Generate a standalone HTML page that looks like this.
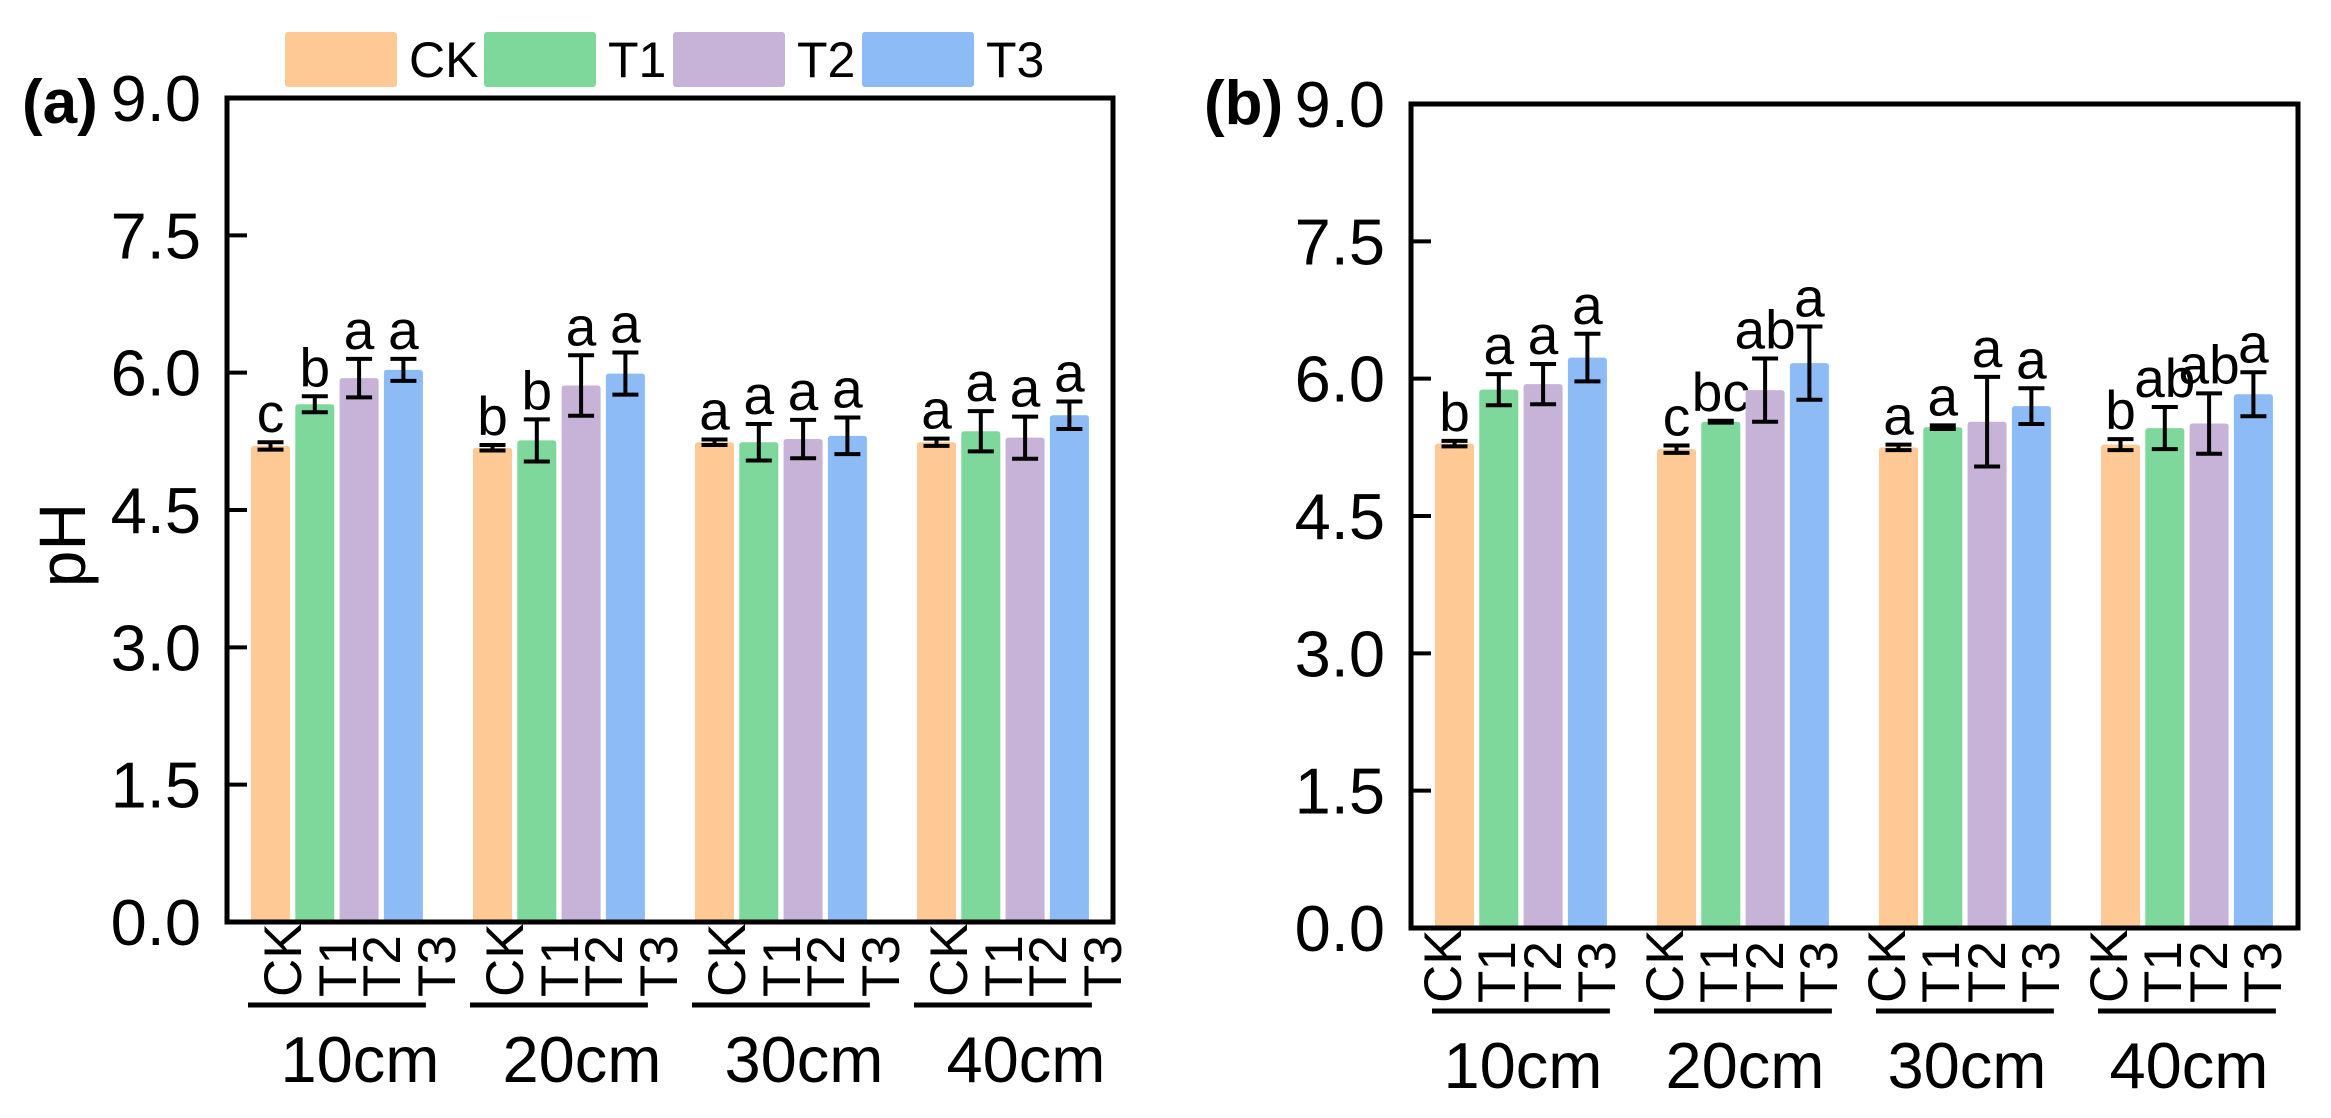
<!DOCTYPE html>
<html><head><meta charset="utf-8">
<style>
html,body{margin:0;padding:0;background:#fff;}
svg{display:block;font-family:"Liberation Sans",Arial,sans-serif;}
</style></head>
<body>
<svg id="chart" width="2331" height="1118" viewBox="0 0 2331 1118" xmlns="http://www.w3.org/2000/svg">
  <g id="legend"></g>
  <g id="panelA"></g>
  <g id="panelB"></g>
</svg>
<script>
const depths = ["10cm","20cm","30cm","40cm"];
const treatments = ["CK","T1","T2","T3"];
const yTicks = [0, 1.5, 3.0, 4.5, 6.0, 7.5, 9.0];
const yTickLabels = ["0.0","1.5","3.0","4.5","6.0","7.5","9.0"];
// Panel (a) values per depth group [CK,T1,T2,T3]
const aMeans = [[5.20,5.655,5.94,6.03],[5.18,5.26,5.86,5.99],[5.24,5.24,5.275,5.31],[5.24,5.36,5.29,5.535]];
const aErrs  = [[0.04,0.087,0.21,0.12],[0.03,0.23,0.33,0.23],[0.03,0.20,0.21,0.20],[0.04,0.22,0.23,0.15]];
const aLetters = [["c","b","a","a"],["b","b","a","a"],["a","a","a","a"],["a","a","a","a"]];
// Panel (b)
const bMeans = [[5.29,5.88,5.94,6.23],[5.23,5.53,5.875,6.17],[5.25,5.47,5.53,5.70],[5.28,5.46,5.51,5.83]];
const bErrs  = [[0.03,0.17,0.22,0.26],[0.04,0.01,0.345,0.40],[0.03,0.02,0.49,0.195],[0.06,0.23,0.33,0.24]];
const bLetters = [["b","a","a","a"],["c","bc","ab","a"],["a","a","a","a"],["b","ab","ab","a"]];

const colors = ["#FEC994","#7FD89B","#C8B3D8","#8CBBF5"];
const NS = "http://www.w3.org/2000/svg";
function mk(parent, tag, attrs, text){
  const e = document.createElementNS(NS, tag);
  for (const k in attrs) e.setAttribute(k, attrs[k]);
  if (text !== undefined) e.textContent = text;
  parent.appendChild(e);
  return e;
}

function drawPanel(g, opt){
  const {left, right, top, bottom, label, means, errs, letters, tickOffsets, labelShift, key} = opt;
  const yMax = 9;
  const y = v => bottom - (v / yMax) * (bottom - top);
  const barW = 39, barPitch = 44.3, groupPitch = 222, firstX = left + 24;
  const xBar = (gi, ti) => firstX + gi * groupPitch + ti * barPitch;

  depths.forEach((d, gi) => {
    treatments.forEach((t, ti) => {
      const x = xBar(gi, ti);
      const yt = y(means[gi][ti]);
      const r = mk(g, "path", {d:`M${x},${bottom} L${x},${yt+3} Q${x},${yt} ${x+3},${yt} L${x+barW-3},${yt} Q${x+barW},${yt} ${x+barW},${yt+3} L${x+barW},${bottom} Z`, fill: colors[ti]});
      
      
      const cx = x + barW/2;
      const e1 = y(means[gi][ti] + errs[gi][ti]);
      const e0 = y(means[gi][ti] - errs[gi][ti]);
      const eb = mk(g, "path", {d:`M${cx},${e1} L${cx},${e0} M${cx-13},${e1} L${cx+13},${e1} M${cx-13},${e0} L${cx+13},${e0}`, stroke:"#000", "stroke-width":4, fill:"none"});
      
      
      const lt = mk(g, "text", {x: cx, y: e1 - 10, "font-size": 55, "text-anchor":"middle", fill:"#000"}, letters[gi][ti]);
      
      
      const lx = xBar(gi, 0) + tickOffsets[ti] + 18;
      const cl = mk(g, "text", {x: 0, y: 0, "font-size": 53, transform:`translate(${lx},${bottom+75}) rotate(-90)`, fill:"#000"}, t);
      
      
    });
    const gx0 = xBar(gi, 0) - 3, gx1 = xBar(gi, 3) + barW + 3;
    const ul = mk(g, "line", {x1:gx0, x2:gx1, y1:bottom+83, y2:bottom+83, stroke:"#000", "stroke-width":5});
    
    
    const gl = mk(g, "text", {x:(gx0+gx1)/2 + labelShift, y:bottom+160, "font-size":65, "text-anchor":"middle", fill:"#000"}, d);
    
    
  });

  yTicks.forEach((v, i) => {
    const tk = mk(g, "line", {x1:left, x2:left+20, y1:y(v), y2:y(v), stroke:"#000", "stroke-width":4});
    
    
    const tl = mk(g, "text", {x:left-26, y:y(v)+23, "font-size":65, "text-anchor":"end", fill:"#000"}, yTickLabels[i]);
    
    
  });

  const fr = mk(g, "rect", {x:left, y:top, width:right-left, height:bottom-top, fill:"none", stroke:"#000", "stroke-width":5});
  
  

  const pl = mk(g, "text", {x:label.x, y:label.y, "font-size":62, "font-weight":"bold", fill:"#000"}, label.text);
  
  
}

drawPanel(document.getElementById("panelA"), {
  key:"a", left:227, right:1113, top:98, bottom:922,
  label:{x:22, y:123, text:"(a)"},
  means:aMeans, errs:aErrs, letters:aLetters,
  tickOffsets:[32,87,131,186], labelShift:23
});
drawPanel(document.getElementById("panelB"), {
  key:"b", left:1411, right:2298, top:104, bottom:928,
  label:{x:1204, y:124, text:"(b)"},
  means:bMeans, errs:bErrs, letters:bLetters,
  tickOffsets:[8,62,108,162], labelShift:2
});

const yt = mk(document.getElementById("panelA"), "text", {x:0, y:0, "font-size":66, "text-anchor":"middle", transform:"translate(85,545) rotate(-90)", fill:"#000"}, "pH");



const lg = document.getElementById("legend");
const legX = [285, 484, 673, 862];
treatments.forEach((t, i) => {
  const sw = mk(lg, "rect", {x:legX[i], y:32, width:112, height:55, rx:3, fill:colors[i]});
  
  
  const tx = mk(lg, "text", {x:legX[i]+124, y:77, "font-size":50, fill:"#000"}, t);
  
  
});
</script>
</body></html>
